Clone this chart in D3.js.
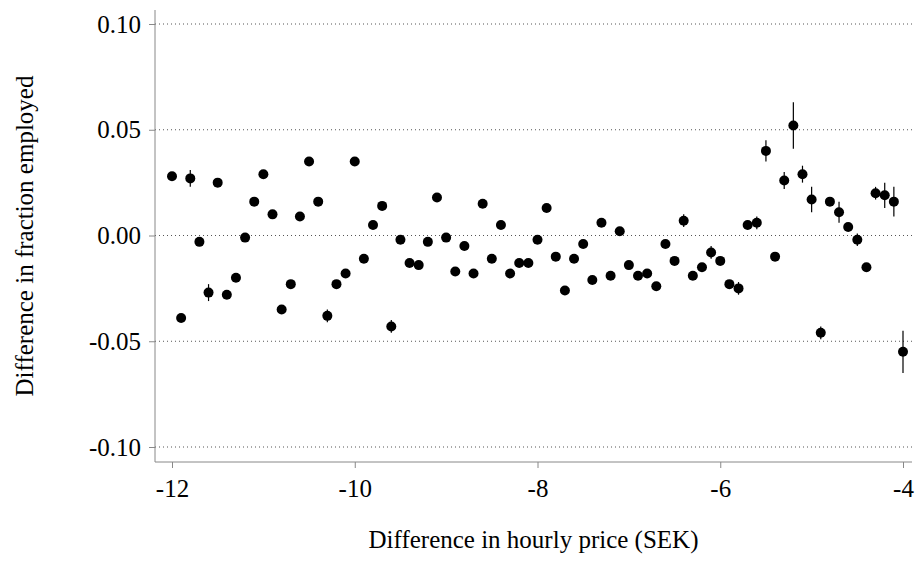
<!DOCTYPE html>
<html><head><meta charset="utf-8">
<script src="https://cdn.jsdelivr.net/npm/d3@7"></script>
<style>body{margin:0;background:#fff}svg text{font-family:"Liberation Serif","DejaVu Serif",serif !important}</style>
</head><body><svg id="c" width="924" height="562"></svg>
<script>
const yVals = [0.028,-0.039,0.027,-0.003,-0.027,0.025,-0.028,-0.020,-0.001,0.016,
 0.029,0.010,-0.035,-0.023,0.009,0.035,0.016,-0.038,-0.023,-0.018,
 0.035,-0.011,0.005,0.014,-0.043,-0.002,-0.013,-0.014,-0.003,0.018,
 -0.001,-0.017,-0.005,-0.018,0.015,-0.011,0.005,-0.018,-0.013,-0.013,
 -0.002,0.013,-0.010,-0.026,-0.011,-0.004,-0.021,0.006,-0.019,0.002,
 -0.014,-0.019,-0.018,-0.024,-0.004,-0.012,0.007,-0.019,-0.015,-0.008,
 -0.012,-0.023,-0.025,0.005,0.006,0.040,-0.010,0.026,0.052,0.029,
 0.017,-0.046,0.016,0.011,0.004,-0.002,-0.015,0.020,0.019,0.016,-0.055];
const errVals = [0.002,0.001,0.004,0.001,0.004,0.001,0.001,0.001,0.001,0.001,
 0.001,0.001,0.001,0.001,0.001,0.001,0.001,0.003,0.001,0.001,
 0.001,0.001,0.001,0.001,0.003,0.001,0.001,0.001,0.001,0.001,
 0.001,0.002,0.001,0.001,0.001,0.001,0.001,0.001,0.001,0.001,
 0.001,0.001,0.001,0.001,0.001,0.001,0.001,0.001,0.001,0.001,
 0.001,0.001,0.002,0.001,0.001,0.001,0.003,0.002,0.001,0.003,
 0.002,0.002,0.003,0.002,0.003,0.005,0.002,0.004,0.011,0.004,
 0.006,0.003,0.001,0.005,0.001,0.003,0.001,0.003,0.006,0.007,0.010];
const xVals = yVals.map((d, i) => -12 + i * 0.1);
const xTicks = [-12, -10, -8, -6, -4];
const yTicks = [0.10, 0.05, 0, -0.05, -0.10];

const svg = d3.select("#c");
const x = d3.scaleLinear().domain([-12, -4]).range([172, 903]);
const y = d3.scaleLinear().domain([-0.10, 0.10]).range([447, 24]);
const pLeft = 155, pRight = 912, pTop = 10, pBottom = 462;

svg.append("g").selectAll("line").data(yTicks).join("line")
  .attr("x1", pLeft).attr("x2", pRight)
  .attr("y1", d => y(d)).attr("y2", d => y(d))
  .attr("stroke", "#555").attr("stroke-width", 1).attr("stroke-dasharray", "1,3");

const ax = svg.append("g").attr("transform", `translate(0,${pBottom})`)
  .call(d3.axisBottom(x).tickValues(xTicks).tickFormat(d => String(d)).tickSize(6).tickSizeOuter(0));
const ay = svg.append("g").attr("transform", `translate(${pLeft},0)`)
  .call(d3.axisLeft(y).tickValues(yTicks).tickFormat(d => (d < 0 ? "-" : "") + Math.abs(d).toFixed(2)).tickSize(6).tickSizeOuter(0));
[ax, ay].forEach(g => {
  g.attr("font-family", null);
  g.select(".domain").attr("stroke", "#888");
  g.selectAll(".tick line").attr("stroke", "#888");
  g.selectAll("text").attr("font-size", 25).attr("fill", "#000");
});
ax.select(".domain").attr("d", `M${pLeft},0H${pRight}`);
ay.select(".domain").attr("d", `M0,${pTop}V${pBottom}`);
ax.selectAll("text").attr("dy", "1.05em");
ay.selectAll("text").attr("dx", "-0.2em");

svg.append("g").selectAll("line").data(yVals).join("line")
  .attr("x1", (d, i) => x(xVals[i])).attr("x2", (d, i) => x(xVals[i]))
  .attr("y1", (d, i) => y(d - errVals[i])).attr("y2", (d, i) => y(d + errVals[i]))
  .attr("stroke", "#000").attr("stroke-width", 1.2);
svg.append("g").selectAll("circle").data(yVals).join("circle")
  .attr("cx", (d, i) => x(xVals[i])).attr("cy", d => y(d)).attr("r", 5).attr("fill", "#000");

svg.append("text").attr("x", (pLeft + pRight) / 2).attr("y", 548).attr("text-anchor", "middle")
  .attr("font-size", 25).text("Difference in hourly price (SEK)");
svg.append("text").attr("transform", `translate(33,${(pTop + pBottom) / 2}) rotate(-90)`)
  .attr("text-anchor", "middle").attr("font-size", 25).text("Difference in fraction employed");
</script></body></html>
